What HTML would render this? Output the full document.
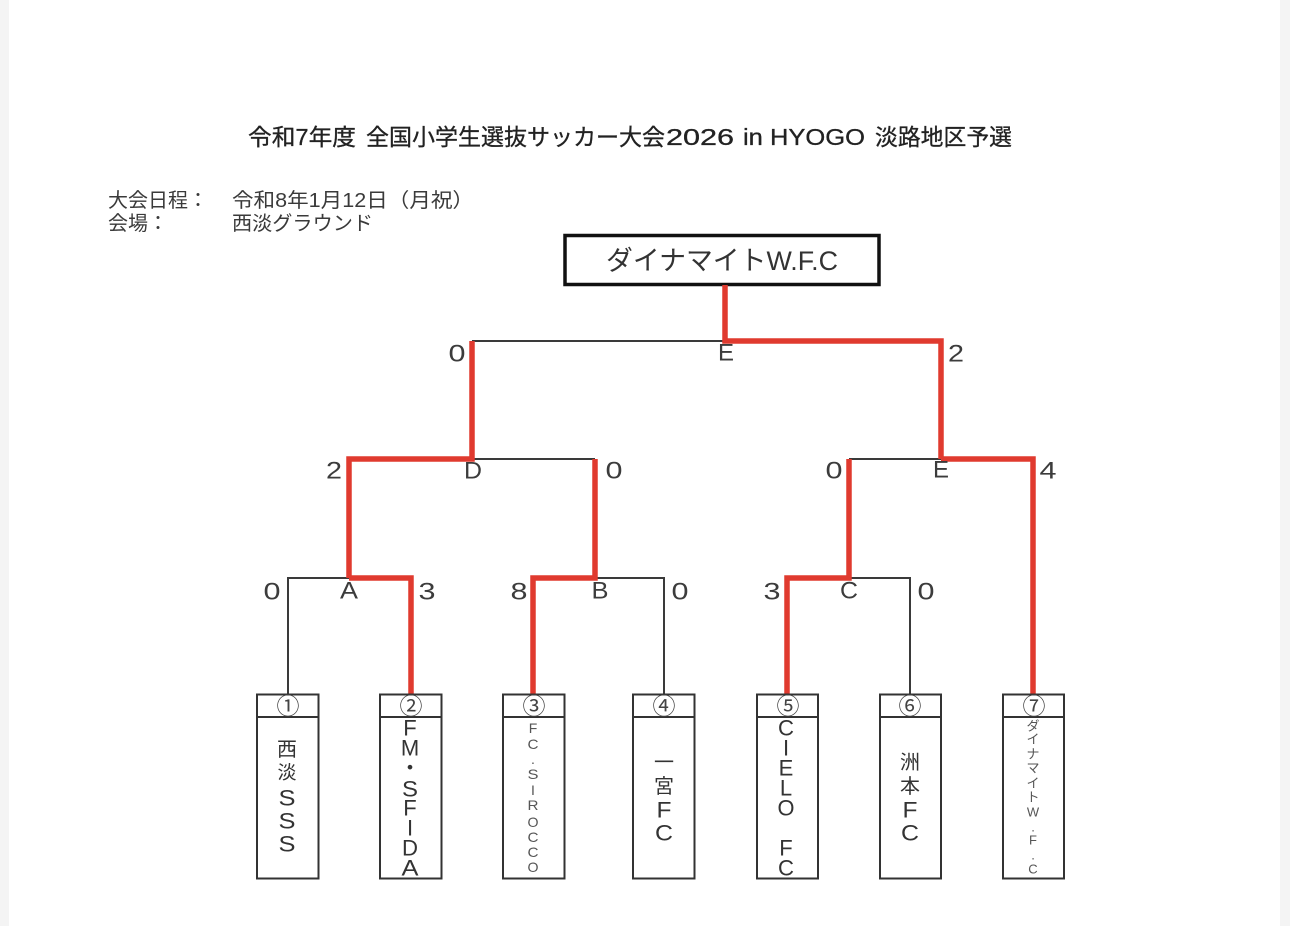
<!DOCTYPE html>
<html lang="ja">
<head>
<meta charset="utf-8">
<title>令和7年度 全国小学生選抜サッカー大会2026 in HYOGO 淡路地区予選</title>
<style>
html,body{margin:0;padding:0;width:1290px;height:926px;overflow:hidden;background:#fff}
svg{display:block;filter:blur(.3px)}
text{font-family:"Liberation Sans","Noto Sans CJK JP",sans-serif;fill:#333;dominant-baseline:central}
.t{font-size:23px;fill:#222;stroke:#222;stroke-width:.3px}
.i{font-size:20px;fill:#3a3a3a}
.s{font-size:24px;text-anchor:middle;fill:#3c3c3c}
.n{font-size:23px;text-anchor:middle;fill:#444}
.b{font-size:22px;text-anchor:middle;fill:#333}
.m{font-size:14px;text-anchor:middle;fill:#555}
.k{font-size:13px;text-anchor:middle;fill:#555}
</style>
</head>
<body>
<svg width="1290" height="926" viewBox="0 0 1290 926" xmlns="http://www.w3.org/2000/svg">
<rect width="1290" height="926" fill="#fff"/>
<rect x="0" y="0" width="9" height="926" fill="#f4f4f4"/>
<rect x="1280" y="0" width="10" height="926" fill="#f4f4f4"/>

<text class="t" x="248" y="137" textLength="108" lengthAdjust="spacingAndGlyphs">令和7年度</text>
<text class="t" x="366" y="137" textLength="299" lengthAdjust="spacingAndGlyphs">全国小学生選抜サッカー大会</text>
<text class="t" x="666" y="137" textLength="68" lengthAdjust="spacingAndGlyphs">2026</text>
<text class="t" x="743" y="137" textLength="122" lengthAdjust="spacingAndGlyphs">in HYOGO</text>
<text class="t" x="875" y="137" textLength="137" lengthAdjust="spacingAndGlyphs">淡路地区予選</text>

<text class="i" x="108" y="201">大会日程：</text>
<text class="i" x="232" y="201" textLength="242" lengthAdjust="spacingAndGlyphs">令和8年1月12日（月祝）</text>
<text class="i" x="108" y="224">会場：</text>
<text class="i" x="232" y="224" textLength="141" lengthAdjust="spacingAndGlyphs">西淡グラウンド</text>

<rect x="565" y="235.500" width="314" height="49" fill="#fff" stroke="#111" stroke-width="3.500"/>
<text x="606" y="261" font-size="27" style="fill:#333" textLength="232" lengthAdjust="spacingAndGlyphs">ダイナマイトW.F.C</text>

<!-- thin connectors -->
<g fill="none" stroke="#3a3a3a" stroke-width="2">
<path d="M472 341H725"/>
<path d="M472 459H595"/>
<path d="M849 459H941"/>
<path d="M288 694V578H349"/>
<path d="M595 578H664V694"/>
<path d="M849 578H910V694"/>
</g>

<!-- winning paths -->
<g fill="none" stroke="#e03a2f" stroke-width="5.500" stroke-linejoin="miter">
<path d="M725 285V341H941V459"/>
<path d="M472 341V459H349V578"/>
<path d="M411 694V578H349"/>
<path d="M595 459V578H533V694"/>
<path d="M849 459V578H787V694"/>
<path d="M941 459H1033V694"/>
</g>

<!-- scores and match labels -->
<text class="s" x="457" y="354" textLength="17" lengthAdjust="spacingAndGlyphs">0</text>
<text class="s" x="726" y="353" textLength="16" lengthAdjust="spacingAndGlyphs">E</text>
<text class="s" x="956" y="354" textLength="16" lengthAdjust="spacingAndGlyphs">2</text>
<text class="s" x="334" y="471" textLength="16" lengthAdjust="spacingAndGlyphs">2</text>
<text class="s" x="473" y="471" textLength="18" lengthAdjust="spacingAndGlyphs">D</text>
<text class="s" x="614" y="471" textLength="17" lengthAdjust="spacingAndGlyphs">0</text>
<text class="s" x="834" y="471" textLength="17" lengthAdjust="spacingAndGlyphs">0</text>
<text class="s" x="941" y="470" textLength="16" lengthAdjust="spacingAndGlyphs">E</text>
<text class="s" x="1048" y="471" textLength="17" lengthAdjust="spacingAndGlyphs">4</text>
<text class="s" x="272" y="592" textLength="17" lengthAdjust="spacingAndGlyphs">0</text>
<text class="s" x="349" y="591" textLength="18" lengthAdjust="spacingAndGlyphs">A</text>
<text class="s" x="427" y="592" textLength="17" lengthAdjust="spacingAndGlyphs">3</text>
<text class="s" x="519" y="592" textLength="17" lengthAdjust="spacingAndGlyphs">8</text>
<text class="s" x="600" y="591" textLength="17" lengthAdjust="spacingAndGlyphs">B</text>
<text class="s" x="680" y="592" textLength="17" lengthAdjust="spacingAndGlyphs">0</text>
<text class="s" x="772" y="592" textLength="17" lengthAdjust="spacingAndGlyphs">3</text>
<text class="s" x="849" y="591" textLength="18" lengthAdjust="spacingAndGlyphs">C</text>
<text class="s" x="926" y="592" textLength="17" lengthAdjust="spacingAndGlyphs">0</text>

<!-- team boxes -->
<g fill="#fff" stroke="#333" stroke-width="2">
<rect x="257" y="694.500" width="61.500" height="184"/><path d="M257 717H318.500"/>
<rect x="380" y="694.500" width="61.500" height="184"/><path d="M380 717H441.500"/>
<rect x="503" y="694.500" width="61.500" height="184"/><path d="M503 717H564.500"/>
<rect x="633" y="694.500" width="61.500" height="184"/><path d="M633 717H694.500"/>
<rect x="757" y="694.500" width="61" height="184"/><path d="M757 717H818"/>
<rect x="880" y="694.500" width="61" height="184"/><path d="M880 717H941"/>
<rect x="1003" y="694.500" width="61" height="184"/><path d="M1003 717H1064"/>
</g>

<text class="n" x="288" y="706">①</text>
<text class="n" x="411" y="706">②</text>
<text class="n" x="534" y="706">③</text>
<text class="n" x="664" y="706">④</text>
<text class="n" x="788" y="706">⑤</text>
<text class="n" x="910" y="706">⑥</text>
<text class="n" x="1034" y="706">⑦</text>

<!-- box 1 -->
<text class="b" x="287" y="750" style="font-size:20px">西</text>
<text class="b" x="287" y="773" style="font-size:19px">淡</text>
<text class="b" x="287" y="798" textLength="17" lengthAdjust="spacingAndGlyphs">S</text>
<text class="b" x="287" y="821" textLength="17" lengthAdjust="spacingAndGlyphs">S</text>
<text class="b" x="287" y="844" textLength="17" lengthAdjust="spacingAndGlyphs">S</text>

<!-- box 2 -->
<text class="b" x="410" y="728">F</text>
<text class="b" x="410" y="748">M</text>
<text class="b" x="410" y="768">・</text>
<text class="b" x="410" y="789" textLength="16" lengthAdjust="spacingAndGlyphs">S</text>
<text class="b" x="410" y="808">F</text>
<text class="b" x="410" y="828">I</text>
<text class="b" x="410" y="848" textLength="16" lengthAdjust="spacingAndGlyphs">D</text>
<text class="b" x="410" y="868" textLength="17" lengthAdjust="spacingAndGlyphs">A</text>

<!-- box 3 -->
<text class="m" x="533" y="728">F</text>
<text class="m" x="533" y="744" textLength="11" lengthAdjust="spacingAndGlyphs">C</text>
<text class="m" x="533" y="759">.</text>
<text class="m" x="533" y="774" textLength="11" lengthAdjust="spacingAndGlyphs">S</text>
<text class="m" x="533" y="790">I</text>
<text class="m" x="533" y="805" textLength="11" lengthAdjust="spacingAndGlyphs">R</text>
<text class="m" x="533" y="822" textLength="11" lengthAdjust="spacingAndGlyphs">O</text>
<text class="m" x="533" y="837" textLength="11" lengthAdjust="spacingAndGlyphs">C</text>
<text class="m" x="533" y="852" textLength="11" lengthAdjust="spacingAndGlyphs">C</text>
<text class="m" x="533" y="867" textLength="11" lengthAdjust="spacingAndGlyphs">O</text>

<!-- box 4 -->
<text class="b" x="664" y="763" style="font-size:20px">一</text>
<text class="b" x="664" y="787" style="font-size:20px">宮</text>
<text class="b" x="664" y="810" textLength="15" lengthAdjust="spacingAndGlyphs">F</text>
<text class="b" x="664" y="833" textLength="18" lengthAdjust="spacingAndGlyphs">C</text>

<!-- box 5 -->
<text class="b" x="786" y="728" textLength="16" lengthAdjust="spacingAndGlyphs">C</text>
<text class="b" x="786" y="748">I</text>
<text class="b" x="786" y="768">E</text>
<text class="b" x="786" y="788">L</text>
<text class="b" x="786" y="808" textLength="17" lengthAdjust="spacingAndGlyphs">O</text>
<text class="b" x="786" y="848">F</text>
<text class="b" x="786" y="868" textLength="16" lengthAdjust="spacingAndGlyphs">C</text>

<!-- box 6 -->
<text class="b" x="910" y="763" style="font-size:20px">洲</text>
<text class="b" x="910" y="787" style="font-size:20px">本</text>
<text class="b" x="910" y="810" textLength="15" lengthAdjust="spacingAndGlyphs">F</text>
<text class="b" x="910" y="833" textLength="18" lengthAdjust="spacingAndGlyphs">C</text>

<!-- box 7 -->
<text class="k" x="1033" y="726">ダ</text>
<text class="k" x="1033" y="739">イ</text>
<text class="k" x="1033" y="754">ナ</text>
<text class="k" x="1033" y="768">マ</text>
<text class="k" x="1033" y="783">イ</text>
<text class="k" x="1033" y="797">ト</text>
<text class="k" x="1033" y="812">W</text>
<text class="k" x="1033" y="827">.</text>
<text class="k" x="1033" y="840">F</text>
<text class="k" x="1033" y="855">.</text>
<text class="k" x="1033" y="869">C</text>
</svg>
</body>
</html>
